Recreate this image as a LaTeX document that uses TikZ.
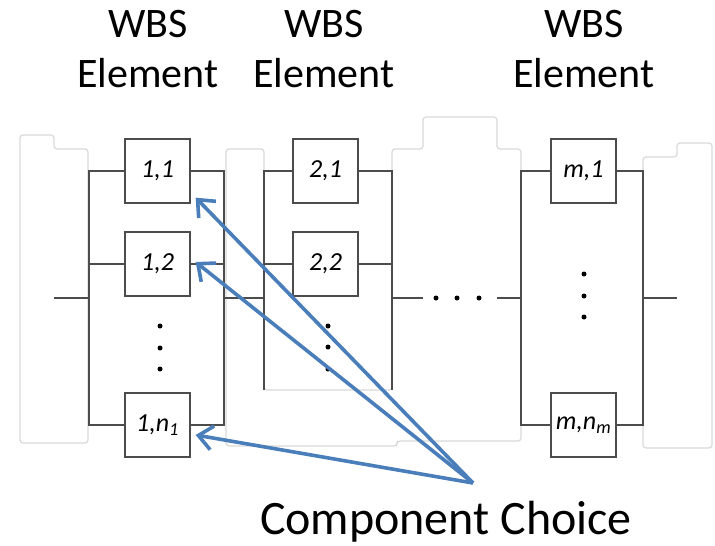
\documentclass[tikz,border=0pt]{standalone}
\usepackage{fontspec}
\setmainfont{Carlito}
\usepackage{xcolor}
\usepackage{tikz}
\usetikzlibrary{arrows.meta}
\usetikzlibrary{calc}
\definecolor{choiceblue}{RGB}{74,126,187}
\definecolor{panelgray}{RGB}{217,217,217}

\begin{document}
\begin{tikzpicture}[x=1pt,y=-1pt,
    wire/.style={draw=black!70, line width=1.3pt},
    comp/.style={draw=black!70, line width=1.3pt, fill=white,
      minimum width=65pt, minimum height=64pt, inner sep=0pt,
      font=\fontsize{26}{30}\selectfont\itshape},
    panel/.style={draw=panelgray, line width=1.2pt, rounded corners=3pt},
    wbs/.style={align=center, inner sep=0pt, font=\fontsize{42}{50}\selectfont},
    pick/.style={draw=choiceblue, line width=3.6pt,
      -{Straight Barb[length=14pt,width=24pt]}},
    dot/.style={circle, fill=black, inner sep=0pt, minimum size=5pt}]
    \useasboundingbox (0,0) rectangle (715,546);
    \draw[panel] (88,443) -- (20,443) -- (20,135) -- (54,135) -- (54,149)
      -- (88,149) -- cycle;
    \draw[panel] (392,390) -- (264,390) -- (264,149) -- (226,149) -- (226,446)
      -- (397,446) -- (397,441) -- (521,441) -- (521,149) -- (497,149)
      -- (497,117) -- (423,117) -- (423,149) -- (392,149) -- cycle;
    \draw[panel] (643,448) -- (643,157) -- (677,157) -- (677,143) -- (712,143)
      -- (712,448) -- cycle;
    \node[wbs, anchor=north] (wbs1) at (148,10) {WBS\\Element};
    \node[wbs, anchor=north] (wbs2) at (324,10) {WBS\\Element};
    \node[wbs, anchor=north] (wbsm) at (584,10) {WBS\\Element};
    \node[comp] (b11) at (157.5,171) {1,1};
    \node[comp] (b12) at (157.5,264) {1,2};
    \node[comp] (b1n) at (157.5,425) {1,n\textsubscript{1}};
    \node[comp] (b21) at (325.5,171) {2,1};
    \node[comp] (b22) at (325.5,264) {2,2};
    \node[comp] (bm1) at (583.5,171) {m,1};
    \node[comp] (bmn) at (583.5,425) {m,n\textsubscript{m}};
    \coordinate (in) at (54,298);
    \coordinate (s1) at (89,298);
    \coordinate (j1) at (224,298);
    \coordinate (s2) at (264,298);
    \coordinate (j2) at (392,298);
    \coordinate (e2) at (264,390);
    \coordinate (f2) at (392,390);
    \coordinate (g2a) at (423,298);
    \coordinate (g2b) at (497,298);
    \coordinate (sm) at (521,298);
    \coordinate (jm) at (643,298);
    \coordinate (out) at (677,298);
    \draw[wire] (in) -- (s1);
    \draw[wire] (b11.west) -| (s1) |- (b1n.west);
    \draw[wire] (b12.west) -- (b12.west -| s1);
    \draw[wire] (b11.east) -| (j1) |- (b1n.east);
    \draw[wire] (b12.east) -- (b12.east -| j1);
    \draw[wire] (j1) -- (s2);
    \draw[wire] (b21.west) -| (e2);
    \draw[wire] (b21.east) -| (f2);
    \draw[wire] (b22.west) -- (b22.west -| s2);
    \draw[wire] (b22.east) -- (b22.east -| j2);
    \draw[wire] (j2) -- (g2a);
    \draw[wire] (g2b) -- (sm);
    \draw[wire] (bm1.west) -| (sm) |- (bmn.west);
    \draw[wire] (bm1.east) -| (jm) |- (bmn.east);
    \draw[wire] (jm) -- (out);
    \foreach \y in {326,348,369} \node[dot] (da\y) at (160,\y) {};
    \foreach \y in {326,347,369} \node[dot] (db\y) at (328,\y) {};
    \foreach \y in {274,296,317} \node[dot] (dm\y) at (584,\y) {};
    \foreach \x in {436,457,479} \node[dot] (dh\x) at (\x,298) {};
    \node[font=\fontsize{48}{58}\selectfont, anchor=base] (choice) at (446,534) {Component Choice};
    \coordinate (fork) at (473,483);
    \draw[pick] (fork) -- ($(b11.south east)+(5,-6)$);
    \draw[pick] (fork) -- ($(b12.east)+(5,-2)$);
    \draw[pick] (fork) -- ($(b1n.east)+(5,10)$);
\end{tikzpicture}
\end{document}
